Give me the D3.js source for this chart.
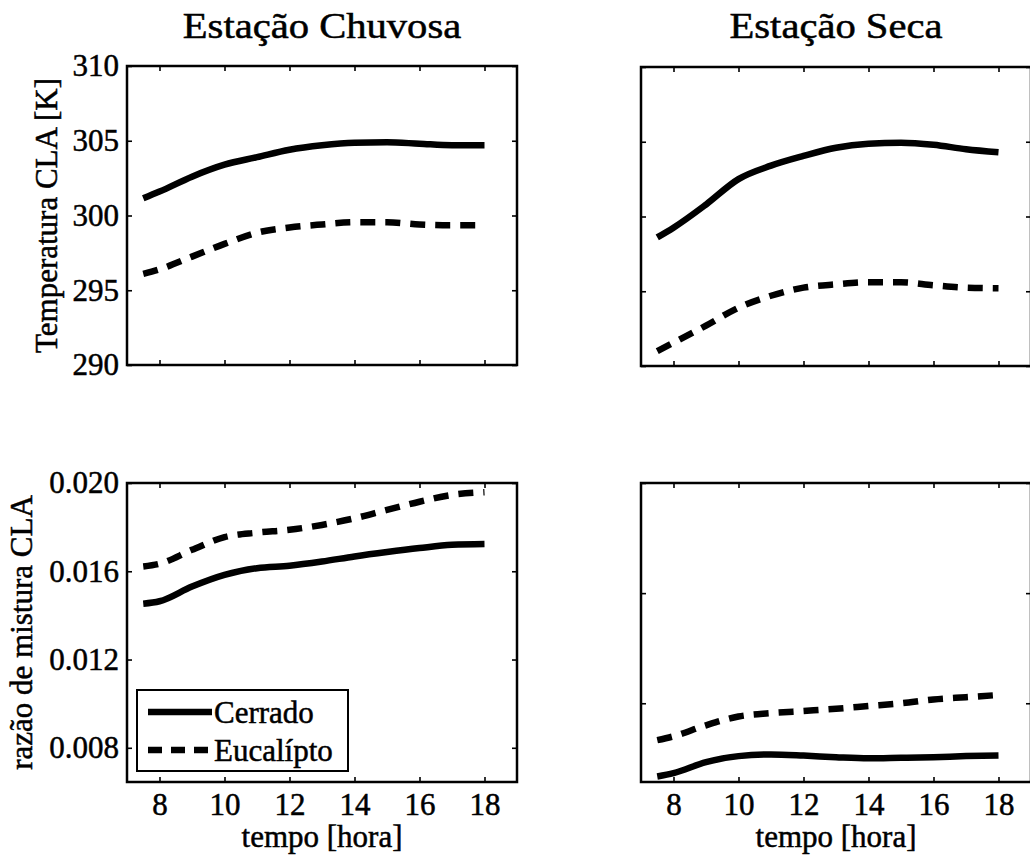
<!DOCTYPE html>
<html>
<head>
<meta charset="utf-8">
<script src="https://cdn.jsdelivr.net/npm/d3@7"></script>
<style>
  body { margin: 0; background: #fff; }
  svg { display: block; font-family: "Liberation Serif", "Times New Roman", serif; }
  svg text { stroke: #000; stroke-width: 0.5; }
</style>
</head>
<body>
<svg id="chart" width="1030" height="855"></svg>
<script>
// DATA
const hours = [7.5, 8, 9, 10, 11, 12, 13, 14, 15, 16, 17, 18];
const seasons = ["Estação Chuvosa", "Estação Seca"];
const seriesNames = ["Cerrado", "Eucalípto"];

const tempChuvosaCerrado = [301.15, 301.6, 302.6, 303.4, 303.9, 304.4, 304.7, 304.87, 304.9, 304.8, 304.7, 304.7];
const tempChuvosaEucalipto = [296.1, 296.4, 297.25, 298.1, 298.85, 299.2, 299.4, 299.55, 299.55, 299.4, 299.35, 299.35];
const tempSecaCerrado = [298.6, 299.25, 300.8, 302.5, 303.4, 304.05, 304.6, 304.87, 304.94, 304.8, 304.5, 304.3];
const tempSecaEucalipto = [291.0, 291.56, 292.7, 293.9, 294.7, 295.24, 295.46, 295.6, 295.6, 295.4, 295.24, 295.2];

const mixChuvosaCerrado = [0.01453, 0.01464, 0.01531, 0.01584, 0.01614, 0.01625, 0.01644, 0.01667, 0.01687, 0.01705, 0.0172, 0.01724];
const mixChuvosaEucalipto = [0.01622, 0.01634, 0.01697, 0.01755, 0.01775, 0.01788, 0.0181, 0.0184, 0.01878, 0.01915, 0.01946, 0.01958];
const mixSecaCerrado = [0.00667, 0.00673, 0.00693, 0.00704, 0.00707, 0.00705, 0.00702, 0.007, 0.00701, 0.00702, 0.00704, 0.00705];
const mixSecaEucalipto = [0.00733, 0.0074, 0.0076, 0.00776, 0.00782, 0.00786, 0.0079, 0.00795, 0.008, 0.00807, 0.00811, 0.00815];

const hourTicks = [8, 10, 12, 14, 16, 18];
const tempTicks = [290, 295, 300, 305, 310];
const mixTicks = [0.008, 0.012, 0.016, 0.020];
const mixSecaTicks = [0.008, 0.010, 0.012];

const yLabels = ["Temperatura CLA [K]", "razão de mistura CLA"];
const xLabel = "tempo [hora]";

// LAYOUT
const W = 390, H = 299;
const svg = d3.select("#chart");

const panels = [
  { left: 127, top: 66, col: 0, row: 0, domain: [290, 310], ticks: tempTicks, fmt: d3.format("d"), series: [tempChuvosaCerrado, tempChuvosaEucalipto] },
  { left: 641, top: 67, col: 1, row: 0, domain: [290, 310], ticks: tempTicks, fmt: null, series: [tempSecaCerrado, tempSecaEucalipto] },
  { left: 127, top: 483, col: 0, row: 1, domain: [0.00645, 0.020], ticks: mixTicks, fmt: d3.format(".3f"), series: [mixChuvosaCerrado, mixChuvosaEucalipto] },
  { left: 641, top: 483, col: 1, row: 1, domain: [0.00657, 0.012], ticks: mixSecaTicks, fmt: null, series: [mixSecaCerrado, mixSecaEucalipto] }
];

const dashes = [null, "15,10"];

const styleAxis = (sel, hasText) => {
  sel.select(".domain").remove();
  sel.selectAll(".tick line").attr("stroke", "#000").attr("stroke-width", 1.6);
  sel.selectAll(".tick text")
    .attr("fill", "#000")
    .attr("font-family", "Liberation Serif, serif")
    .attr("font-size", 31);
  if (!hasText) sel.selectAll(".tick text").remove();
};

// DRAW ONE PANEL
const drawPanel = p => {
  const g = svg.append("g").attr("transform", `translate(${p.left},${p.top})`);

  const xScale = d3.scaleLinear().domain([7, 19]).range([0, W]);
  const yScale = d3.scaleLinear().domain(p.domain).range([H, 0]);

  const line = d3.line()
    .x((d, i) => xScale(hours[i]))
    .y(d => yScale(d))
    .curve(d3.curveMonotoneX);

  p.series.forEach((values, i) => {
    g.append("path")
      .datum(values)
      .attr("d", line)
      .attr("fill", "none")
      .attr("stroke", "#000")
      .attr("stroke-width", 6.5)
      .attr("stroke-dasharray", dashes[i]);
  });

  // AXES, TICKS POINT INWARD ON ALL FOUR SIDES
  const showX = p.row === 1;
  const showY = p.fmt !== null;

  g.append("g")
    .attr("transform", `translate(0,${H})`)
    .call(d3.axisBottom(xScale).tickValues(hourTicks).tickSizeInner(-5).tickSizeOuter(0).tickPadding(11))
    .call(s => styleAxis(s, showX));

  g.append("g")
    .call(d3.axisTop(xScale).tickValues(hourTicks).tickSizeInner(-5).tickSizeOuter(0))
    .call(s => styleAxis(s, false));

  g.append("g")
    .call(d3.axisLeft(yScale).tickValues(p.ticks).tickSizeInner(-5).tickSizeOuter(0).tickPadding(8)
      .tickFormat(p.fmt || (() => "")))
    .call(s => styleAxis(s, showY));

  g.append("g")
    .attr("transform", `translate(${W},0)`)
    .call(d3.axisRight(yScale).tickValues(p.ticks).tickSizeInner(-5).tickSizeOuter(0))
    .call(s => styleAxis(s, false));

  g.append("rect")
    .attr("width", W)
    .attr("height", H)
    .attr("fill", "none")
    .attr("stroke", "#000")
    .attr("stroke-width", 2.5);

  if (showX) {
    g.append("text")
      .attr("x", W / 2)
      .attr("y", H + 65)
      .attr("text-anchor", "middle")
      .attr("font-size", 31)
      .text(xLabel);
  }

  if (p.col === 0) {
    const lx = p.row === 0 ? -70 : -95;
    g.append("text")
      .attr("transform", `translate(${lx},${H / 2}) rotate(-90)`)
      .attr("text-anchor", "middle")
      .attr("font-size", 31)
      .text(yLabels[p.row]);
  }

  if (p.row === 0) {
    g.append("text")
      .attr("transform", `translate(${W / 2},${38 - p.top}) scale(1.16,1)`)
      .attr("text-anchor", "middle")
      .attr("font-size", 35)
      .text(seasons[p.col]);
  }

  // LEGEND IN THE LOWER LEFT PANEL
  if (p.row === 1 && p.col === 0) {
    const lg = g.append("g").attr("transform", "translate(10,207)");
    lg.append("rect")
      .attr("width", 211)
      .attr("height", 81)
      .attr("fill", "#fff")
      .attr("stroke", "#000")
      .attr("stroke-width", 2);
    seriesNames.forEach((name, i) => {
      const ly = 22 + i * 38;
      lg.append("line")
        .attr("x1", 11).attr("x2", 75)
        .attr("y1", ly).attr("y2", ly)
        .attr("stroke", "#000")
        .attr("stroke-width", 6.5)
        .attr("stroke-dasharray", i === 1 ? "14,9" : null);
      lg.append("text")
        .attr("x", 77)
        .attr("y", ly + 11)
        .attr("font-size", 31)
        .text(name);
    });
  }
};

panels.forEach(drawPanel);
</script>
</body>
</html>
